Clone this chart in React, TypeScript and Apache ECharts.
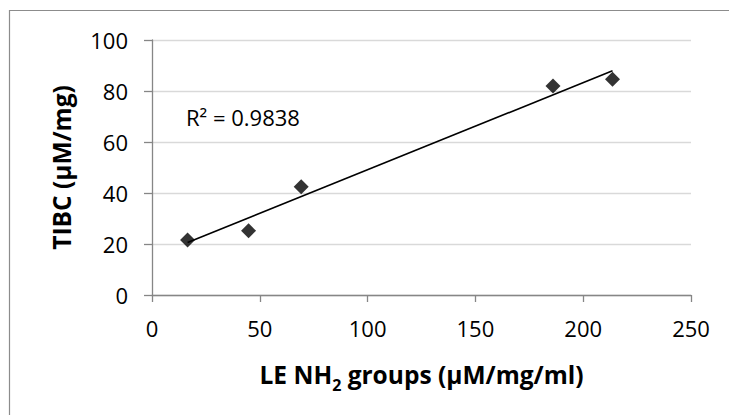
import React, { useEffect, useRef } from "react";
import * as echarts from "echarts";

// LE NH2 groups (µM/mg/ml) vs TIBC (µM/mg)
const nh2Groups = [16.5, 44.8, 69.2, 186.0, 213.6];
const tibc = [21.6, 25.2, 42.5, 82.0, 84.6];
const xTicks = [0, 250, 50];
const yTicks = [0, 100, 20];
const rSquaredLabel = "R² = 0.9838";

const FONT = "'Open Sans', 'Noto Sans', sans-serif";

// least-squares line through the measured points
function linearFit(xs: number[], ys: number[]) {
  const n = xs.length;
  const mx = xs.reduce((a, b) => a + b, 0) / n;
  const my = ys.reduce((a, b) => a + b, 0) / n;
  let sxy = 0;
  let sxx = 0;
  for (let i = 0; i < n; i++) {
    sxy += (xs[i] - mx) * (ys[i] - my);
    sxx += (xs[i] - mx) * (xs[i] - mx);
  }
  const slope = sxy / sxx;
  return { slope, intercept: my - slope * mx };
}

export default function App() {
  const ref = useRef<HTMLDivElement>(null);

  useEffect(() => {
    if (!ref.current) return;
    const chart = echarts.init(ref.current, null, { renderer: "svg" });
    const fit = linearFit(nh2Groups, tibc);
    const xMin = Math.min(...nh2Groups);
    const xMax = Math.max(...nh2Groups);
    const trend = [
      [xMin, fit.intercept + fit.slope * xMin],
      [xMax, fit.intercept + fit.slope * xMax],
    ];
    const points = nh2Groups.map((x, i) => [x, tibc[i]]);

    chart.setOption({
      animation: false,
      backgroundColor: "#ffffff",
      grid: { left: 152, right: 38, top: 40, bottom: 120, containLabel: false },
      xAxis: {
        type: "value",
        min: xTicks[0],
        max: xTicks[1],
        interval: xTicks[2],
        name: "LE NH{sub|2} groups (µM/mg/ml)",
        nameLocation: "middle",
        nameGap: 60,
        nameTextStyle: {
          fontFamily: FONT,
          fontWeight: "bold",
          fontSize: 24.5,
          color: "#000",
          rich: {
            sub: {
              fontFamily: FONT,
              fontWeight: "bold",
              fontSize: 16,
              color: "#000",
              padding: [22, 0, 0, 0],
            },
          },
        },
        axisLine: { show: true, lineStyle: { color: "#868686", width: 1.3 } },
        axisTick: { show: true, length: 7, lineStyle: { color: "#868686", width: 1.3 } },
        axisLabel: { fontFamily: FONT, fontSize: 22, color: "#000", margin: 22 },
        splitLine: { show: false },
      },
      yAxis: {
        type: "value",
        min: yTicks[0],
        max: yTicks[1],
        interval: yTicks[2],
        name: "TIBC (µM/mg)",
        nameLocation: "middle",
        nameRotate: 90,
        nameGap: 78,
        nameTextStyle: {
          fontFamily: FONT,
          fontWeight: "bold",
          fontSize: 24.5,
          color: "#000",
        },
        axisLine: { show: true, lineStyle: { color: "#868686", width: 1.3 } },
        axisTick: { show: true, length: 8, lineStyle: { color: "#868686", width: 1.3 } },
        axisLabel: { fontFamily: FONT, fontSize: 22, color: "#000", margin: 24 },
        splitLine: { show: true, lineStyle: { color: "#d9d9d9", width: 1.3 } },
      },
      graphic: [
        // chart frame: only its left and top edges fall inside the view
        {
          type: "line",
          shape: { x1: 9.5, y1: 10, x2: 9.5, y2: 415 },
          style: { stroke: "#8c8c8c", lineWidth: 1.2 },
          silent: true,
        },
        {
          type: "line",
          shape: { x1: 9, y1: 10.5, x2: 729, y2: 10.5 },
          style: { stroke: "#8c8c8c", lineWidth: 1.2 },
          silent: true,
        },
        {
          type: "text",
          x: 186,
          y: 106,
          style: {
            text: rSquaredLabel,
            fontFamily: FONT,
            fontSize: 22,
            fill: "#000",
          },
        },
      ],
      series: [
        {
          type: "line",
          data: trend,
          showSymbol: false,
          symbol: "none",
          lineStyle: { color: "#000", width: 1.6 },
          z: 2,
        },
        {
          type: "scatter",
          data: points,
          symbol: "diamond",
          symbolSize: 15,
          itemStyle: { color: "#000" },
          z: 3,
        },
      ],
    });

    return () => chart.dispose();
  }, []);

  return (
    <div
      ref={ref}
      style={{ position: "fixed", left: 0, top: 0, width: 729, height: 415 }}
    />
  );
}
